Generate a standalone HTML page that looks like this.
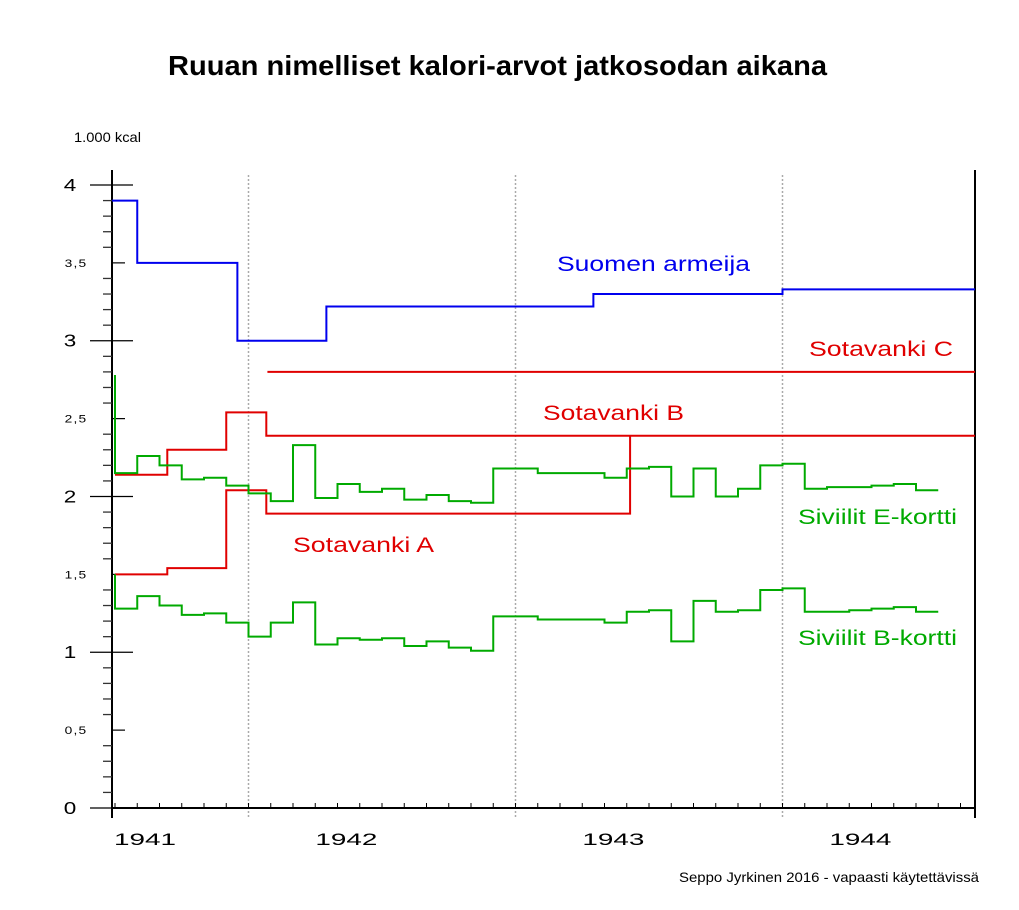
<!DOCTYPE html>
<html><head><meta charset="utf-8"><style>
body{margin:0;background:#fff;}
svg{display:block;font-family:"Liberation Sans",sans-serif;}
</style></head><body>
<svg id="chart" width="1019" height="910" viewBox="0 0 1019 910">
<rect x="0" y="0" width="1019" height="910" fill="#fff"/>
<text x="168" y="75" font-size="28" font-weight="bold" fill="#000" textLength="659" lengthAdjust="spacingAndGlyphs">Ruuan nimelliset kalori-arvot jatkosodan aikana</text>
<text x="74" y="142" font-size="14" fill="#000" textLength="67" lengthAdjust="spacingAndGlyphs">1.000 kcal</text>
<text x="679" y="882" font-size="14" fill="#000" textLength="300" lengthAdjust="spacingAndGlyphs">Seppo Jyrkinen 2016 - vapaasti käytettävissä</text>
<g id="grid"></g><g id="axes"></g><g id="series"></g>
<text x="557" y="271" font-size="21" fill="#0000ee" textLength="193" lengthAdjust="spacingAndGlyphs">Suomen armeija</text>
<text x="809" y="356" font-size="21" fill="#e00000" textLength="144" lengthAdjust="spacingAndGlyphs">Sotavanki C</text>
<text x="543" y="420" font-size="21" fill="#e00000" textLength="141" lengthAdjust="spacingAndGlyphs">Sotavanki B</text>
<text x="293" y="552" font-size="21" fill="#e00000" textLength="141" lengthAdjust="spacingAndGlyphs">Sotavanki A</text>
<text x="798" y="524" font-size="21" fill="#00aa00" textLength="159" lengthAdjust="spacingAndGlyphs">Siviilit E-kortti</text>
<text x="798" y="645" font-size="21" fill="#00aa00" textLength="159" lengthAdjust="spacingAndGlyphs">Siviilit B-kortti</text>
</svg>
<script>
// months since July 1941 (0 = Jul 1941)
const yTicks=[0,0.5,1,1.5,2,2.5,3,3.5,4];
const yTickLabels=["0","0,5","1","1,5","2","2,5","3","3,5","4"];
const years=["1941","1942","1943","1944"];
const yearLabelMonths=[1.35,10.4,22.4,33.5];
const yearBoundaries=[6,18,30];
const eMonths=[0,1,2,3,4,5,6,7,8,9,10,11,12,13,14,15,16,17,19,22,23,24,25,26,27,28,29,30,31,32,34,35,36,37];
const eValues=[2.15,2.26,2.20,2.11,2.12,2.07,2.02,1.97,2.33,1.99,2.08,2.03,2.05,1.98,2.01,1.97,1.96,2.18,2.15,2.12,2.18,2.19,2.00,2.18,2.00,2.05,2.20,2.21,2.05,2.06,2.07,2.08,2.04];
const eStart=2.78;
const bMonths=[0,1,2,3,4,5,6,7,8,9,10,11,12,13,14,15,16,17,19,22,23,24,25,26,27,28,29,30,31,33,34,35,36,37];
const bValues=[1.28,1.36,1.30,1.24,1.25,1.19,1.10,1.19,1.32,1.05,1.09,1.08,1.09,1.04,1.07,1.03,1.01,1.23,1.21,1.19,1.26,1.27,1.07,1.33,1.26,1.27,1.40,1.41,1.26,1.27,1.28,1.29,1.26];
const bStart=1.50;
const armyMonths=[-0.13,1,5.5,9.5,21.5,30,38.65];
const armyValues=[3.90,3.50,3.00,3.22,3.30,3.33];
const powAMonths=[0,2.35,5,6.8,23.15];
const powAValues=[1.50,1.54,2.04,1.89];
const powAEnd=2.39;
const powBMonths=[0,2.35,5,6.8,38.65];
const powBValues=[2.14,2.30,2.54,2.39];
const powCMonths=[6.85,38.65];
const powCValues=[2.80];

const X0=115, MW=22.25, Y0=808, UY=155.75;
const xs=m=>X0+m*MW, ys=v=>Y0-v*UY;
const NS="http://www.w3.org/2000/svg";
function mk(tag,parent,attrs){const e=document.createElementNS(NS,tag);for(const k in attrs)e.setAttribute(k,attrs[k]);document.getElementById(parent).appendChild(e);return e;}
function stepPath(ms,vs,start,end){let d="";if(start!==undefined){d="M"+xs(ms[0])+","+ys(start)+" V"+ys(vs[0]);}else d="M"+xs(ms[0])+","+ys(vs[0]);
for(let i=0;i<vs.length;i++){d+=" H"+xs(ms[i+1]);if(i+1<vs.length)d+=" V"+ys(vs[i+1]);}
if(end!==undefined)d+=" V"+ys(end);return d;}

yearBoundaries.forEach(m=>{const l=mk('line','grid',{x1:xs(m),x2:xs(m),y1:175,y2:818,stroke:'#aaa','stroke-width':1.5,'stroke-dasharray':'2,2'});

});
let a=mk('line','axes',{x1:112,x2:112,y1:170,y2:818,stroke:'#000','stroke-width':2});

a=mk('line','axes',{x1:975,x2:975,y1:170,y2:818,stroke:'#000','stroke-width':2});

a=mk('line','axes',{x1:112,x2:975,y1:808,y2:808,stroke:'#000','stroke-width':2});

for(let m=0;m<=38;m++){const t=mk('line','axes',{x1:xs(m),x2:xs(m),y1:803,y2:808,stroke:'#000','stroke-width':1});

}
for(let i=1;i<=40;i++){const v=i/10;if(i%5===0)continue;const t=mk('line','axes',{x1:103,x2:112,y1:ys(v),y2:ys(v),stroke:'#333','stroke-width':1.3});

}
yTicks.forEach((v,i)=>{const major=Number.isInteger(v);
const t=mk('line','axes',{x1:major?90:112,x2:major?133:125,y1:ys(v),y2:ys(v),stroke:'#000','stroke-width':1.2});


const cx=major?70:76;
const tx=mk('text','axes',{x:cx,y:ys(v)+(major?6:4),'text-anchor':'middle','font-size':major?18:11,'letter-spacing':major?0:1,fill:'#000'});


tx.textContent=yTickLabels[i];
tx.setAttribute('transform','translate('+cx+',0) scale(1.25,1) translate('+(-cx)+',0)');});
years.forEach((y,i)=>{const tx=mk('text','axes',{x:xs(yearLabelMonths[i])-31,y:845,'font-size':17,textLength:62,lengthAdjust:'spacingAndGlyphs',fill:'#000'});


tx.textContent=y;});
function series(d,col,name){const p=mk('path','series',{d:d,fill:'none',stroke:col,'stroke-width':2});

}
series(stepPath(armyMonths,armyValues),'#0000ee','line-suomen-armeija');
series(stepPath(powCMonths,powCValues),'#e00000','line-sotavanki-c');
series(stepPath(powBMonths,powBValues),'#e00000','line-sotavanki-b');
series(stepPath(powAMonths,powAValues,undefined,powAEnd),'#e00000','line-sotavanki-a');
series(stepPath(eMonths,eValues,eStart),'#00aa00','line-siviilit-e');
series(stepPath(bMonths,bValues,bStart),'#00aa00','line-siviilit-b');
</script>
</body></html>
